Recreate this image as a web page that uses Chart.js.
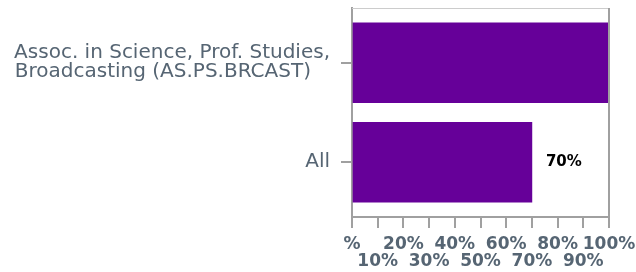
<!DOCTYPE html>
<html>
<head>
<meta charset="utf-8">
<script src="https://cdn.jsdelivr.net/npm/chart.js@4"></script>
<style>
html,body{margin:0;padding:0;background:#fff;}
#wrap{width:636px;height:272px;}
</style>
</head>
<body>
<div id="wrap"><canvas id="c" width="636" height="272"></canvas></div>
<script>
const categories = [
  ["Assoc. in Science, Prof. Studies,", "Broadcasting (AS.PS.BRCAST)"],
  ["All"]
];
const values = [100, 70];
const xTickValues = [0,10,20,30,40,50,60,70,80,90,100];

const labelColor = '#566573';
const axisGray = '#a0a0a0';
const catFont = '20px "DejaVu Sans"';

// left-align lines inside a right-aligned label block by padding shorter lines with spaces
const mctx = document.createElement('canvas').getContext('2d');
mctx.font = catFont;
function blockLines(lines) {
  const widths = lines.map(l => mctx.measureText(l).width);
  const maxW = Math.max(...widths);
  const sp = mctx.measureText(' ').width;
  return lines.map((l, i) => l + ' '.repeat(Math.round((maxW - widths[i]) / sp)));
}

const frame = {
  id: 'frame',
  afterDatasetsDraw(chart) {
    const {ctx, chartArea: a} = chart;
    ctx.save();
    ctx.lineWidth = 1;
    ctx.strokeStyle = '#cccccc';
    ctx.beginPath(); ctx.moveTo(a.left, a.top + 0.5); ctx.lineTo(a.right, a.top + 0.5); ctx.stroke();
    ctx.lineWidth = 2;
    ctx.strokeStyle = axisGray;
    ctx.beginPath(); ctx.moveTo(a.right, a.top); ctx.lineTo(a.right, a.bottom); ctx.stroke();
    ctx.restore();
  }
};

const valueLabels = {
  id: 'valueLabels',
  afterDatasetsDraw(chart) {
    const {ctx} = chart;
    const meta = chart.getDatasetMeta(0);
    ctx.save();
    ctx.font = 'bold 15px "DejaVu Sans"';
    ctx.fillStyle = '#000';
    ctx.textAlign = 'left';
    ctx.textBaseline = 'middle';
    meta.data.forEach((bar, i) => {
      const txt = values[i] + '%';
      const x = bar.x + 14;
      if (x + ctx.measureText(txt).width <= chart.width) {
        ctx.fillText(txt, x, bar.y);
      }
    });
    ctx.restore();
  }
};

new Chart(document.getElementById('c'), {
  type: 'bar',
  data: {
    datasets: [{
      data: values.map((v, i) => ({x: v, y: i})),
      backgroundColor: '#660099',
      borderWidth: 0,
      barThickness: 80
    }]
  },
  options: {
    indexAxis: 'y',
    responsive: false,
    animation: false,
    layout: {padding: {top: 8, right: 27, left: 0, bottom: 0}},
    plugins: {legend: {display: false}, tooltip: {enabled: false}},
    scales: {
      y: {
        type: 'linear',
        reverse: true,
        offset: false,
        min: -0.55,
        max: 1.55,
        afterBuildTicks(scale) { scale.ticks = categories.map((_, i) => ({value: i})); },
        afterFit(scale) { scale.width = 352; scale.paddingTop = 0; scale.paddingBottom = 0; },
        grid: {offset: false, drawOnChartArea: false, tickLength: 11, color: axisGray, lineWidth: 2},
        border: {display: true, color: axisGray, width: 2},
        ticks: {
          padding: 11,
          color: labelColor,
          font: {family: '"DejaVu Sans"', size: 20, lineHeight: 0.95},
          callback: (v) => categories[v] ? blockLines(categories[v]) : ''
        }
      },
      x: {
        type: 'linear',
        min: 0,
        max: 100,
        afterBuildTicks(scale) { scale.ticks = xTickValues.map(v => ({value: v})); },
        afterFit(scale) { scale.height = 55; scale.paddingLeft = 0; scale.paddingRight = 0; },
        grid: {drawOnChartArea: false, tickLength: 11, color: axisGray, lineWidth: 2},
        border: {display: true, color: axisGray, width: 2},
        ticks: {
          padding: 8,
          maxRotation: 0,
          autoSkip: false,
          color: labelColor,
          font: {family: '"DejaVu Sans"', size: 17, weight: 'bold', lineHeight: 1.0},
          callback: (v, i) => {
            const t = v === 0 ? '%' : v + '%';
            return i % 2 === 0 ? [t, ''] : ['', t];
          }
        }
      }
    }
  },
  plugins: [frame, valueLabels]
});
</script>
</body>
</html>
